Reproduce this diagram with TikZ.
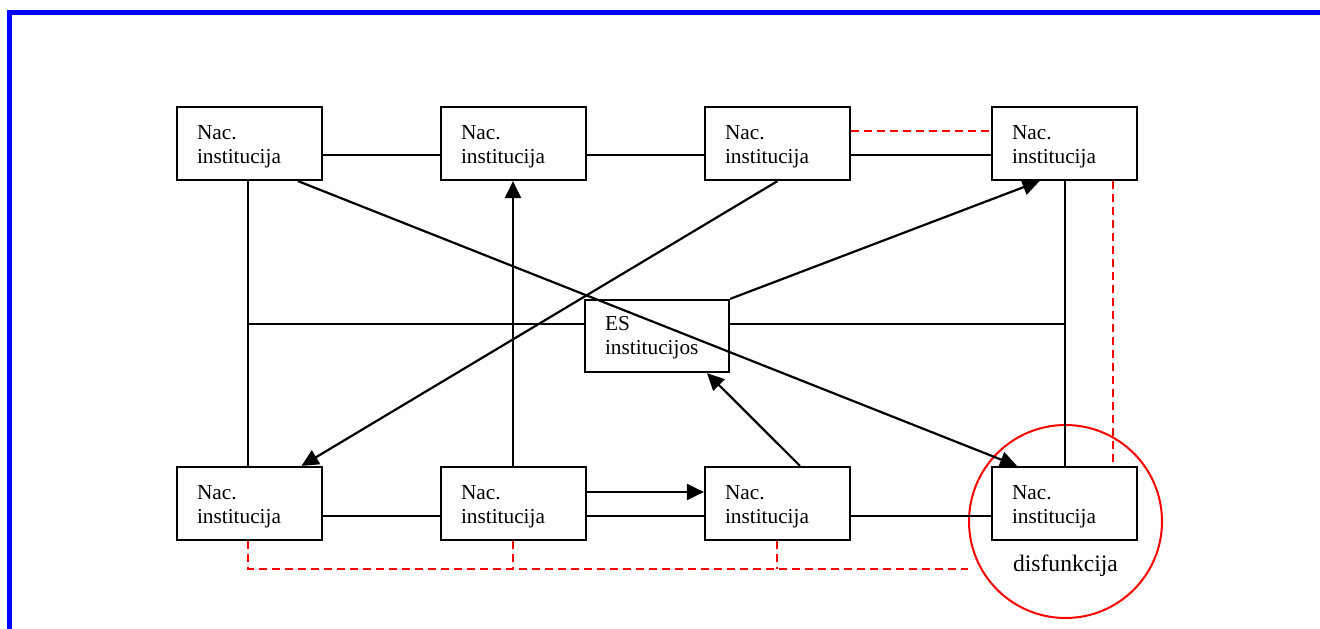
\documentclass[tikz,border=0pt]{standalone}
\usepackage{fontspec}
\setmainfont{Liberation Serif}
\usetikzlibrary{arrows.meta,calc}
\newcommand\nacinst{\rule{0pt}{19.6pt}Nac.\\institucija}
\begin{document}
\begin{tikzpicture}[x=1pt,y=-1pt,
  inst/.style={draw=black,line width=2.2pt,rectangle,minimum width=145pt,minimum height=73pt,
    inner xsep=20pt,inner ysep=0pt,text width=105pt,align=left,
    font=\fontsize{21.3}{24}\selectfont},
  conn/.style={draw=black,line width=2.2pt},
  arr/.style={conn,-{Triangle[length=17pt,width=16pt]}},
  reddash/.style={draw=red,line width=2pt,dash pattern=on 8pt off 5pt},
  border/.style={draw={rgb,255:red,0;green,0;blue,255},line width=5pt}]
\useasboundingbox (0,0) rectangle (1320,629);
\draw[border] (9.2,640) -- (9.2,12.2) -- (1330,12.2);

\node[inst] (t1) at (249.5,143.5) {\nacinst};
\node[inst] (t2) at (513.5,143.5) {\nacinst};
\node[inst] (t3) at (777.5,143.5) {\nacinst};
\node[inst] (t4) at (1064.5,143.5) {\nacinst};
\node[inst] (b1) at (249.5,503.5) {\nacinst};
\node[inst] (b2) at (513.5,503.5) {\nacinst};
\node[inst] (b3) at (777.5,503.5) {\nacinst};
\node[inst] (b4) at (1064.5,503.5) {\nacinst};
\node[inst,minimum width=144pt,minimum height=72pt,text width=104pt] (es) at (657,336) {\rule{0pt}{16.6pt}ES\\institucijos};

\node[circle,draw=red,line width=2pt,minimum size=193pt,inner sep=0pt] (circ) at (1065.5,521.5) {};
\node[anchor=base,inner sep=0pt,font=\fontsize{23.6}{26}\selectfont] (dis) at (1065.5,571) {disfunkcija};

% top row
\draw[conn] ([yshift=-11.5pt]t1.east) -- ([yshift=-11.5pt]t2.west);
\draw[conn] ([yshift=-11.5pt]t2.east) -- ([yshift=-11.5pt]t3.west);
\draw[conn] ([yshift=-11.5pt]t3.east) -- ([yshift=-11.5pt]t4.west);
\draw[reddash] ([yshift=12.5pt]t3.east) -- ([yshift=12.5pt]t4.west);

% verticals
\coordinate (t1s) at ([xshift=-1.5pt]t1.south);
\draw[conn] (t1s) -- ([xshift=-1.5pt]b1.north);
\draw[conn] ([xshift=0.5pt]t4.south) -- ([xshift=0.5pt]b4.north);
\draw[reddash] ([xshift=48.5pt]t4.south) -- ([xshift=48.5pt]b4.north);

% ES horizontals
\coordinate (esl) at ([yshift=12pt]es.west);
\coordinate (esr) at ([yshift=12pt]es.east);
\draw[conn] (esl) -- (esl -| t1s);
\draw[conn] (esr) -- ([xshift=0.5pt]esr -| t4.south);

% diagonals and arrows
\draw[arr] ([xshift=48.5pt]t1.south) -- ([xshift=-47.5pt]b4.north);
\draw[arr] (t3.south) -- ([xshift=52pt]b1.north);
\draw[arr] (es.north east) -- ([xshift=-25pt]t4.south);
\draw[arr] ([xshift=-0.5pt]b2.north) -- ([xshift=-0.5pt]t2.south);
\draw[arr] ([xshift=22.5pt]b3.north) -- ([xshift=50pt]es.south);

% bottom row
\draw[conn] ([yshift=-12.5pt]b1.east) -- ([yshift=-12.5pt]b2.west);
\draw[arr] ([yshift=11.5pt]b2.east) -- ([yshift=11.5pt]b3.west);
\draw[conn] ([yshift=-12.5pt]b2.east) -- ([yshift=-12.5pt]b3.west);
\draw[conn] ([yshift=-12.5pt]b3.east) -- ([yshift=-12.5pt]b4.west);

% red dashed bottom
\coordinate (rb) at ([xshift=-1.5pt,yshift=-28pt]b1.south);
\draw[reddash] ([xshift=-1.5pt]b1.south) -- (rb) -- (rb -| circ.west);
\draw[reddash] ([xshift=-0.5pt]b2.south) -- ([xshift=-0.5pt]rb -| b2.south);
\draw[reddash] ([xshift=-0.5pt]b3.south) -- ([xshift=-0.5pt]rb -| b3.south);
\end{tikzpicture}
\end{document}
